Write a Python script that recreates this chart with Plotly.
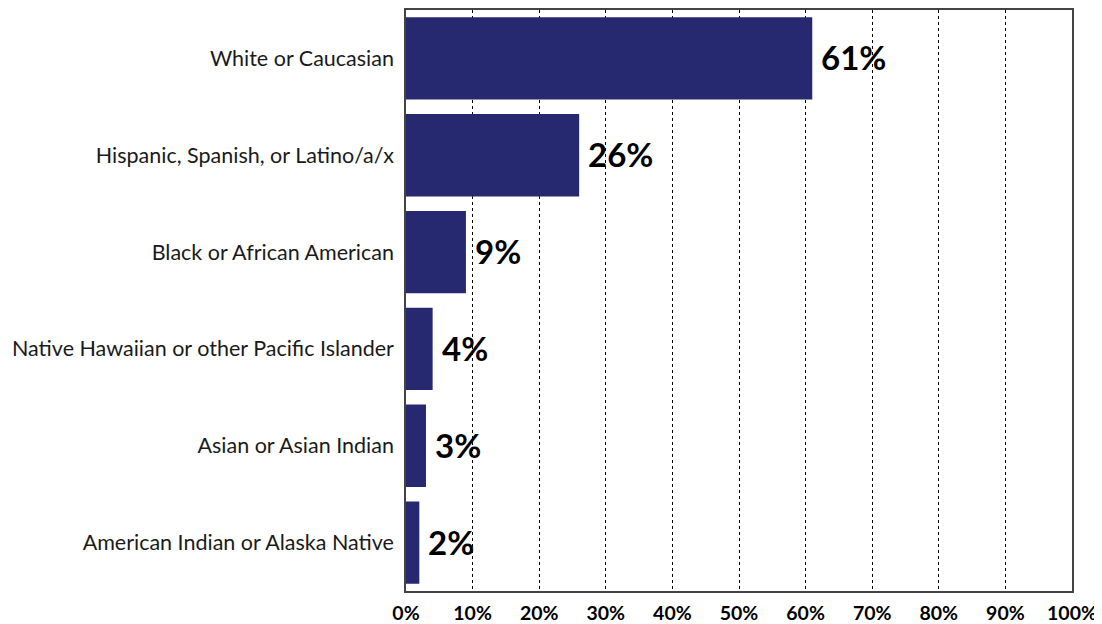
import plotly.graph_objects as go

categories = [
    "White or Caucasian",
    "Hispanic, Spanish, or Latino/a/x",
    "Black or African American",
    "Native Hawaiian or other Pacific Islander",
    "Asian or Asian Indian",
    "American Indian or Alaska Native",
]
values = [61, 26, 9, 4, 3, 2]
tick_vals = [0, 10, 20, 30, 40, 50, 60, 70, 80, 90, 100]
tick_text = [f"{v}%" for v in tick_vals]
labels = [f"{v}%" for v in values]

FONT = "Lato, Open Sans, sans-serif"

fig = go.Figure(
    go.Bar(
        y=categories,
        x=values,
        orientation="h",
        marker=dict(color="#272970", line=dict(width=0)),
        width=0.85,
        hoverinfo="x+y",
    )
)

for cat, val, lab in zip(categories, values, labels):
    fig.add_annotation(
        x=val, y=cat, text=lab, showarrow=False,
        xanchor="left", yanchor="middle", xshift=7, yshift=1,
        font=dict(family=FONT, size=33, color="#000000", weight="bold"),
    )

fig.update_layout(
    width=1102,
    height=624,
    margin=dict(l=398, r=38, t=2, b=41, autoexpand=False),
    plot_bgcolor="white",
    paper_bgcolor="white",
    showlegend=False,
    xaxis=dict(
        range=[0, 100],
        tickvals=tick_vals,
        ticktext=tick_text,
        tickfont=dict(family=FONT, size=19.5, color="#000000", weight="bold"),
        showgrid=True,
        gridcolor="#000000",
        griddash="3px,3px",
        gridwidth=1,
        zeroline=False,
        showline=True,
        linecolor="#444444",
        linewidth=1.5,
        mirror=True,
        ticks="",
        ticklabelstandoff=4,
        fixedrange=True,
    ),
    yaxis=dict(
        tickfont=dict(family=FONT, size=21.5, color="#1a1a1a"),
        showgrid=False,
        showline=True,
        linecolor="#444444",
        linewidth=1.5,
        mirror=True,
        ticks="",
        ticklabelstandoff=6,
        range=[5.5, -0.5],
        fixedrange=True,
    ),
)

fig.write_html("out.html")
